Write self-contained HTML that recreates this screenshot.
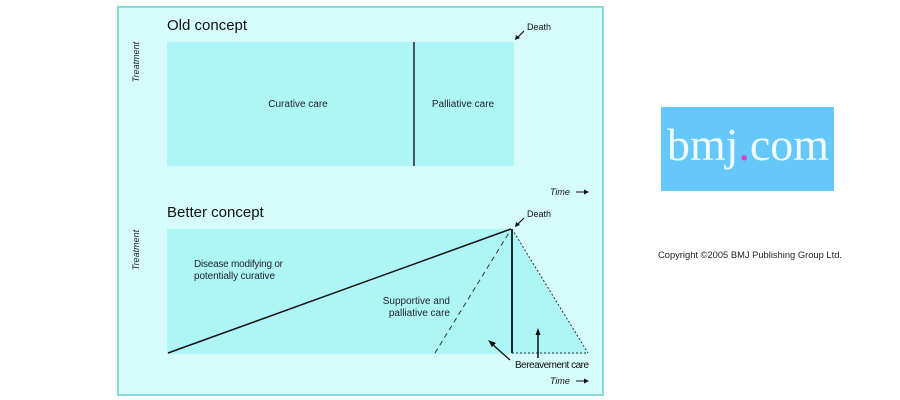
<!DOCTYPE html>
<html><head><style>
body{margin:0;background:#fff;width:900px;height:400px;overflow:hidden;font-family:"Liberation Sans",sans-serif;}
</style></head><body>
<svg width="900" height="400" xmlns="http://www.w3.org/2000/svg" style="position:absolute;left:0;top:0">
<rect x="118" y="7" width="485" height="388" fill="#d6fbfb" stroke="#86dada" stroke-width="2"/>
<text x="167" y="30" font-size="15" fill="#111">Old concept</text>
<rect x="167" y="42" width="347" height="124" fill="#aef5f5"/>
<line x1="414" y1="42" x2="414" y2="166" stroke="#223" stroke-width="1.5"/>
<text x="298" y="107" font-size="10" fill="#223" text-anchor="middle">Curative care</text>
<text x="463" y="107" font-size="10" fill="#223" text-anchor="middle">Palliative care</text>
<text x="527" y="30" font-size="9" fill="#111">Death</text>
<line x1="524" y1="31" x2="517" y2="38" stroke="#111" stroke-width="1.2"/>
<polygon points="515,40 516,35 520,38" fill="#111"/>
<text x="136" y="62" font-size="9" font-style="italic" fill="#223" transform="rotate(-90 136 62)" text-anchor="middle" dy="3">Treatment</text>
<text x="550" y="195" font-size="9" font-style="italic" fill="#111">Time</text>
<line x1="576" y1="192" x2="588" y2="192" stroke="#111"/><polygon points="589,192 584,189.5 584,194.5" fill="#111"/>

<text x="167" y="217" font-size="15" fill="#111">Better concept</text>
<rect x="167" y="229" width="345" height="125" fill="#aef5f5"/>
<polygon points="512,229 588,354 512,354" fill="#aef5f5"/>
<line x1="168" y1="353" x2="511" y2="229" stroke="#111" stroke-width="1.5"/>
<line x1="512" y1="229" x2="512" y2="353" stroke="#111" stroke-width="1.8"/>
<line x1="435" y1="353" x2="510" y2="231" stroke="#334" stroke-width="1" stroke-dasharray="5,4"/>
<line x1="512" y1="229" x2="588" y2="353" stroke="#334" stroke-width="1" stroke-dasharray="2,2"/>
<line x1="512" y1="353" x2="588" y2="353" stroke="#334" stroke-width="1" stroke-dasharray="2,2"/>
<line x1="510" y1="360" x2="492" y2="344" stroke="#111" stroke-width="1.3"/><polygon points="488,340 496,343 492,347" fill="#111"/>
<line x1="538" y1="358" x2="538" y2="334" stroke="#111" stroke-width="1.5"/><polygon points="538,328 535.5,335 540.5,335" fill="#111"/>
<text x="194" y="267" font-size="10" fill="#223" textLength="89">Disease modifying or</text>
<text x="194" y="279" font-size="10" fill="#223" textLength="81">potentially curative</text>
<text x="450" y="304" font-size="10" fill="#223" text-anchor="end">Supportive and</text>
<text x="450" y="316" font-size="10" fill="#223" text-anchor="end">palliative care</text>
<text x="515" y="368" font-size="10" fill="#111" textLength="74">Bereavement care</text>
<text x="527" y="217" font-size="9" fill="#111">Death</text>
<line x1="524" y1="218" x2="517" y2="225" stroke="#111" stroke-width="1.2"/>
<polygon points="515,227 516,222 520,225" fill="#111"/>
<text x="136" y="250" font-size="9" font-style="italic" fill="#223" transform="rotate(-90 136 250)" text-anchor="middle" dy="3">Treatment</text>
<text x="550" y="384" font-size="9" font-style="italic" fill="#111">Time</text>
<line x1="576" y1="381" x2="588" y2="381" stroke="#111"/><polygon points="589,381 584,378.5 584,383.5" fill="#111"/>

<rect x="661" y="107" width="173" height="84" fill="#66c8fa"/>
<text x="667" y="160" font-size="46" font-family="Liberation Serif,serif" fill="#eefaff" textLength="162" lengthAdjust="spacingAndGlyphs">bmj<tspan fill="#cc44cc">.</tspan>com</text>
<text x="658" y="258" font-size="9" fill="#222" textLength="184" lengthAdjust="spacingAndGlyphs">Copyright ©2005 BMJ Publishing Group Ltd.</text>
</svg>
</body></html>
